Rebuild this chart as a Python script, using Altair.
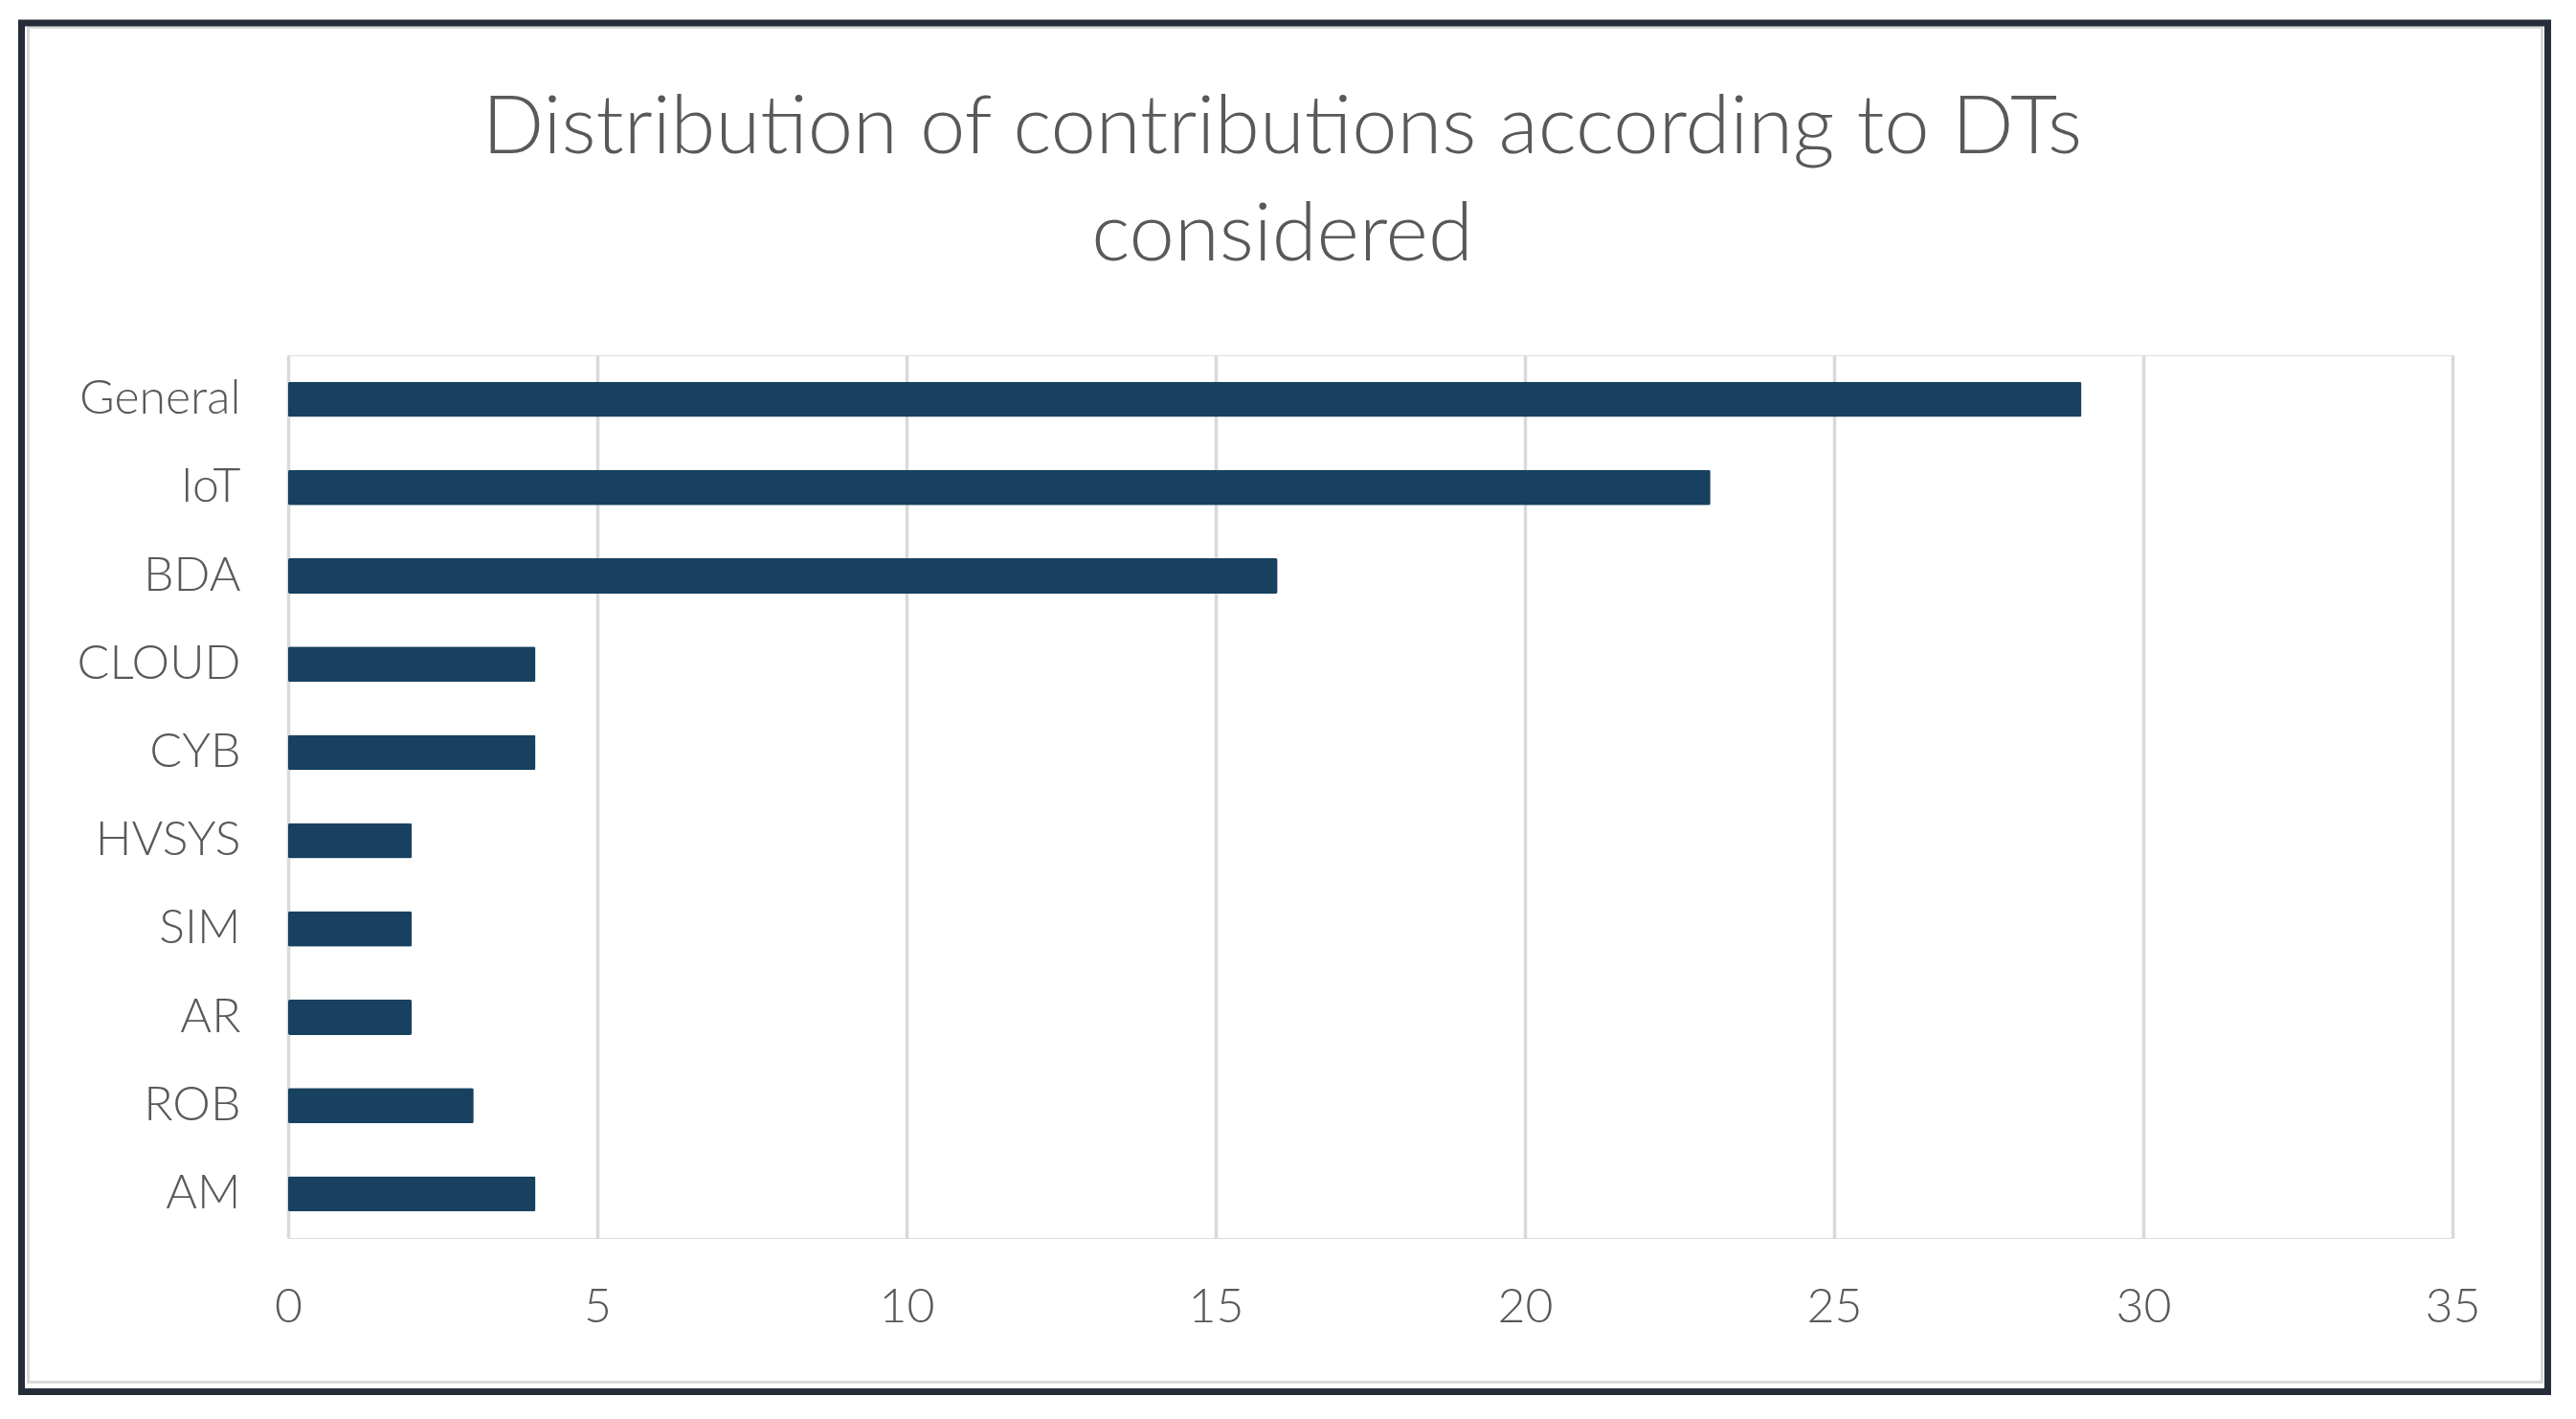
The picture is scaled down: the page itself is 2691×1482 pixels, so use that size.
import altair as alt
import pandas as pd

categories = ["General", "IoT", "BDA", "CLOUD", "CYB", "HVSYS", "SIM", "AR", "ROB", "AM"]
counts = [29, 23, 16, 4, 4, 2, 2, 2, 3, 4]
x_ticks = [0, 5, 10, 15, 20, 25, 30, 35]
title_lines = ["Distribution of contributions according to DTs", "considered"]

df = pd.DataFrame({"category": categories, "count": counts})

FONT = "Lato"
GREY_TEXT = "#595959"
BAR = "#17415f"

W, H = 2261, 922

bars = alt.Chart(df).mark_bar(color=BAR, cornerRadius=2).encode(
    x=alt.X("count:Q",
            scale=alt.Scale(domain=[0, 35], nice=False),
            axis=alt.Axis(values=x_ticks, title=None, grid=True, gridColor="#d9d9d9",
                          gridWidth=3.5, domain=False, ticks=False, tickSize=0,
                          labelFlush=False,
                          labelFont=FONT, labelFontSize=50, labelFontWeight=300,
                          labelColor=GREY_TEXT, labelPadding=47)),
    y=alt.Y("category:N", sort=categories,
            scale=alt.Scale(paddingInner=0.6, paddingOuter=0.3),
            axis=alt.Axis(title=None, grid=False, domain=False, ticks=False, tickSize=0,
                          labelFont=FONT, labelFontSize=50, labelFontWeight=300,
                          labelColor=GREY_TEXT, labelPadding=50)),
)

frame_df = pd.DataFrame({"k": [0]})
outer = alt.Chart(frame_df).mark_rect(fill=None, stroke="#252d38", strokeWidth=7).encode(
    x=alt.value(-278.5), x2=alt.value(2360.5), y=alt.value(-347), y2=alt.value(1082.5)
)
inner = alt.Chart(frame_df).mark_rect(fill=None, stroke="#d9d9d9", strokeWidth=3).encode(
    x=alt.value(-271.5), x2=alt.value(2354.5), y=alt.value(-342.5), y2=alt.value(1072.5)
)

chart = alt.layer(inner, outer, bars).properties(
    width=W, height=H,
    title=alt.TitleParams(text=title_lines, font=FONT, fontSize=85, fontWeight=300,
                          color=GREY_TEXT, anchor="middle", lineHeight=112,
                          baseline="bottom", offset=83, dx=-92, dy=437),
    padding={"left": 293, "top": 363, "right": 115, "bottom": 170},
    autosize=alt.AutoSizeParams(type="none"),
).configure_view(stroke=None).configure(background="white")

chart.save("out.html", embed_options={"renderer": "svg", "actions": False})
